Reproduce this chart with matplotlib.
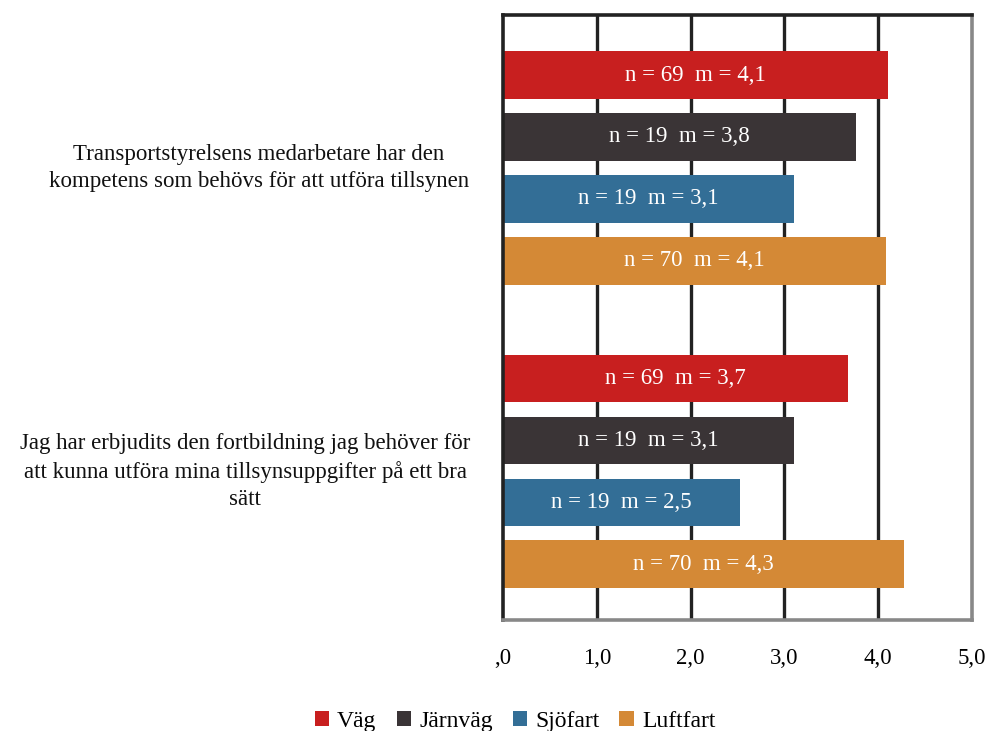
import matplotlib.pyplot as plt
import numpy as np

# data
questions = [
    "Transportstyrelsens medarbetare har den\nkompetens som behövs för att utföra tillsynen",
    "Jag har erbjudits den fortbildning jag behöver för\natt kunna utföra mina tillsynsuppgifter på ett bra\nsätt",
]
modes = ["Väg", "Järnväg", "Sjöfart", "Luftfart"]
colors = ["#C81F1F", "#3A3436", "#336E96", "#D48936"]
means = [
    [4.10, 3.76, 3.10, 4.08],
    [3.68, 3.10, 2.53, 4.28],
]
counts = [
    [69, 19, 19, 70],
    [69, 19, 19, 70],
]
mean_labels = [
    ["4,1", "3,8", "3,1", "4,1"],
    ["3,7", "3,1", "2,5", "4,3"],
]
xticks = [0, 1, 2, 3, 4, 5]
xticklabels = [",0", "1,0", "2,0", "3,0", "4,0", "5,0"]

plt.rcParams["font.family"] = ["Liberation Serif", "DejaVu Serif"]

fig = plt.figure(figsize=(9.92, 7.31), dpi=100)
ax = fig.add_axes([503 / 992, 1 - 620 / 731, (972 - 503) / 992, (620 - 15) / 731])

group_gap = 4.9
for g in range(len(questions)):
    for i, mode in enumerate(modes):
        y = g * group_gap + i
        v = means[g][i]
        ax.barh(y, v, height=0.77, color=colors[i], zorder=3,
                label=mode if g == 0 else None)
        ax.text(v / 2, y, f"n = {counts[g][i]}  m = {mean_labels[g][i]}",
                color="white", ha="center", va="center", fontsize=16.5, zorder=4)
    yc = g * group_gap + 1.5
    xc = [-0.52, -0.55][g]
    ax.text(xc, yc, questions[g], ha="center", va="center", fontsize=16.5,
            multialignment="center", linespacing=1.4,
            transform=ax.get_yaxis_transform(), color="#111111")

ax.set_xlim(0, 5)
ax.set_ylim(8.8, -0.97)
ax.set_yticks([])
ax.set_xticks(xticks)
ax.set_xticklabels(xticklabels, fontsize=16.5)
ax.tick_params(axis="x", length=0, pad=20)
for x in xticks[1:-1]:
    ax.axvline(x, color="#222222", lw=2.4, zorder=1)

ax.spines["top"].set_color("#222222")
ax.spines["left"].set_color("#222222")
ax.spines["right"].set_color("#888888")
ax.spines["bottom"].set_color("#888888")
for s in ax.spines.values():
    s.set_linewidth(2.6)
    s.set_zorder(5)

fig.legend(loc="lower center", bbox_to_anchor=(515 / 992, -0.03), ncol=4,
           frameon=False, fontsize=17, handlelength=0.6, handleheight=0.6,
           handletextpad=0.35, columnspacing=0.85)

fig.savefig("out.png", dpi=100)
